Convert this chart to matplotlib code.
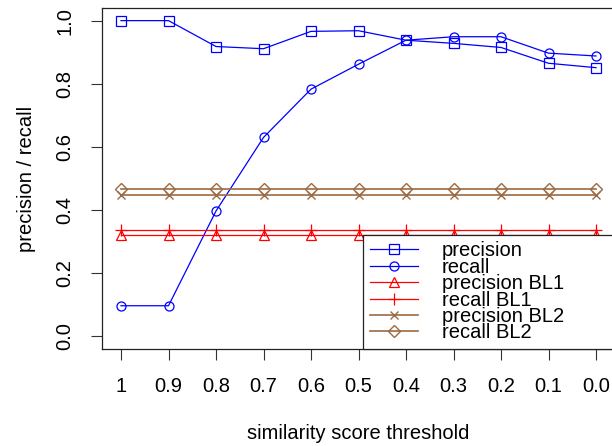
import numpy as np
import matplotlib
matplotlib.use('Agg')
import matplotlib.pyplot as plt

plt.rcParams['font.family'] = ['Liberation Sans', 'DejaVu Sans']

# thresholds, plotted left to right from 1 down to 0
thresholds = ['1', '0.9', '0.8', '0.7', '0.6', '0.5', '0.4', '0.3', '0.2', '0.1', '0.0']

precision     = [1.00, 1.00, 0.918, 0.911, 0.966, 0.968, 0.938, 0.928, 0.915, 0.865, 0.851]
recall        = [0.097, 0.097, 0.397, 0.630, 0.783, 0.862, 0.938, 0.949, 0.949, 0.897, 0.888]
precision_bl1 = [0.322] * 11
recall_bl1    = [0.337] * 11
precision_bl2 = [0.447] * 11
recall_bl2    = [0.467] * 11

blue  = '#0000FF'
red   = '#FF0000'
brown = '#9C6A42'

x = np.arange(len(thresholds))

fig = plt.figure(figsize=(6.12, 4.46), dpi=100)
ax = fig.add_axes([102 / 612, 1 - 349 / 446, 513 / 612, 341 / 446])

lw = 0.9
ax.plot(x, precision, color=blue, lw=lw, marker='s', ms=6.5, mfc='none', mew=0.9, label='precision')
ax.plot(x, recall, color=blue, lw=lw, marker='o', ms=6.5, mfc='none', mew=0.9, label='recall')
ax.plot(x, precision_bl1, color=red, lw=lw, marker='^', ms=7.5, mfc='none', mew=0.9, label='precision BL1')
ax.plot(x, recall_bl1, color=red, lw=lw, marker='+', ms=9, mew=0.9, label='recall BL1')
ax.plot(x, precision_bl2, color=brown, lw=1.2, marker='x', ms=6, mew=1.0, label='precision BL2')
ax.plot(x, recall_bl2, color=brown, lw=1.2, marker='D', ms=6.5, mfc='none', mew=1.0, label='recall BL2')

ax.set_xlim(-0.4, 10.4)
ax.set_ylim(-0.04, 1.04)
ax.set_xticks(x)
ax.set_xticklabels(thresholds)
ax.set_yticks([0.0, 0.2, 0.4, 0.6, 0.8, 1.0])
ax.set_yticklabels(['0.0', '0.2', '0.4', '0.6', '0.8', '1.0'], rotation=90, va='center')

ax.tick_params(axis='both', labelsize=14.5, length=8, width=0.8, color='#333333')
ax.tick_params(axis='x', pad=12)
ax.tick_params(axis='y', pad=12)
for s in ax.spines.values():
    s.set_linewidth(0.9)
    s.set_color('#222222')

ax.set_xlabel('similarity score threshold', fontsize=14.5, labelpad=20)
ax.set_ylabel('precision / recall', fontsize=14.5, labelpad=14)

# R-style legend box: stretched to the right edge of the plot region
leg = ax.legend(loc='lower left', bbox_to_anchor=(0.509, 0.0, 0.491, 0.34), mode='expand',
                fontsize=14.5, frameon=True, fancybox=False, framealpha=1,
                edgecolor='#222222', borderaxespad=0, labelspacing=-0.13,
                handlelength=2.39, handletextpad=1.19, borderpad=0.33)
leg.get_frame().set_linewidth(0.9)

fig.savefig('out.png', dpi=100)
